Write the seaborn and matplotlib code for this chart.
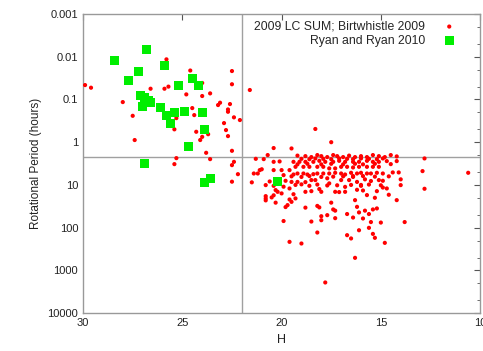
import numpy as np
import pandas as pd
import matplotlib
matplotlib.use("Agg")
import matplotlib.pyplot as plt
from matplotlib.ticker import LogLocator, FixedLocator, NullFormatter
import seaborn as sns

# ---- Data: 2009 LC SUM; Birtwhistle 2009 (H, period in hours) ----
lc_H = [
    29.9, 29.6, 25.8, 24.6, 22.5, 24.0, 26.6, 25.9, 25.7, 24.8, 23.6, 22.5, 21.6,
    28.0, 24.5, 23.2, 23.1, 22.6, 22.7, 22.7, 24.4, 24.0, 25.4, 25.3, 27.5, 22.4,
    22.1, 22.9, 25.4, 24.3, 24.0, 23.7, 22.8, 22.7, 27.4, 24.1, 22.5, 23.8, 25.3,
    25.4, 23.6, 22.4, 22.5, 22.2, 22.5, 21.4, 21.5, 21.3, 18.3,
    # right cluster
    17.5, 20.4, 19.5, 12.8, 12.9, 10.6, 12.8, 14.0, 14.2, 13.8, 14.8, 16.3, 17.8,
    19.6, 19.0, 19.9, 18.2, 18.5, 16.7, 16.5, 16.1, 15.6, 15.4, 15.3, 15.0, 15.5,
    15.9, 16.4, 16.7, 17.3, 18.0, 17.7, 18.0, 18.8, 18.2, 18.1, 17.4, 17.3, 17.5,
    16.3, 16.2, 15.8, 15.4, 15.2, 15.7, 15.2, 14.7, 20.3, 20.8, 20.8, 20.5, 19.7,
    19.5, 19.6, 19.3, 20.0, 20.3, 20.2, 20.8, 21.2, 21.1, 20.9, 20.7, 20.4, 20.4,
    20.1, 20.0, 19.9, 19.8, 19.5, 19.6, 19.2, 19.0, 18.8, 18.5, 18.1, 18.0, 17.7,
    17.6, 17.3, 17.1, 16.8, 16.8, 18.8, 18.5, 18.3, 18.0, 17.7, 17.0, 16.6, 16.2,
    15.8, 15.5, 15.1, 14.9, 14.4, 14.1, 14.0, 14.5, 14.2, 14.7, 14.9, 15.2, 15.5,
    15.7, 16.0, 16.2, 16.5, 16.8, 17.0, 17.3, 17.6, 17.9, 18.2, 18.4, 18.7, 18.9,
    19.2, 19.4, 19.6, 19.3, 18.9, 18.6, 18.2, 17.9, 17.6, 17.3, 17.0, 16.7, 16.4,
    16.1, 15.7, 15.4, 15.1, 19.4, 19.1, 18.8, 18.4, 18.1, 17.8, 17.4, 17.1, 16.8,
    16.4, 16.1, 15.7, 15.4, 15.1,
    19.2, 18.8, 18.5, 18.2, 18.0, 17.7, 17.4, 17.2, 16.9, 16.6, 16.3, 16.0, 15.7,
    15.4, 15.1, 14.8, 14.5, 14.2,
    20.6, 21.0, 20.4, 19.9, 20.8, 20.4, 19.8, 19.4, 14.9, 15.3, 16.2, 15.6, 16.1,
    16.0, 15.9, 14.6, 16.4,
    19.0, 18.6, 18.3, 17.9, 17.5, 17.1, 16.7, 16.4, 16.0, 15.6, 15.2, 14.9,
    19.2, 18.7, 18.0, 17.5, 16.9, 16.3, 15.9, 15.3,
    19.5, 19.0, 18.6, 17.4, 16.9, 16.4, 15.9, 15.3, 14.6,
    19.3, 18.6, 18.2, 17.2, 16.5, 16.0, 15.6, 15.0,
]
lc_P = [
    0.046, 0.053, 0.0115, 0.021, 0.0216, 0.041, 0.056, 0.056, 0.050, 0.076, 0.072, 0.044, 0.060,
    0.115, 0.159, 0.135, 0.119, 0.128, 0.171, 0.194, 0.232, 0.083, 0.205, 0.273, 0.241, 0.262,
    0.303, 0.357, 0.50, 0.57, 0.75, 0.65, 0.52, 0.72, 0.89, 0.89, 1.59, 1.77, 2.36,
    3.26, 2.49, 2.88, 3.44, 5.6, 8.4, 5.4, 8.7, 2.45, 0.49,
    # right cluster
    1.0, 1.37, 1.40, 2.4, 4.75, 5.2, 12.3, 10.1, 22.7, 74, 227, 509, 1920,
    215, 235, 70, 130, 72, 150, 179, 115, 101, 140, 173, 76, 74,
    61, 58, 48, 60, 54, 51, 67, 34, 31, 33.6, 37.5, 40, 26,
    22.7, 32.6, 40, 37.5, 35.5, 17.3, 14, 12.1, 26, 20.7, 18.3, 19.6, 29.7,
    24.9, 21.9, 20.7, 15.8, 13.2, 14.5, 10.1, 5.4, 4.5, 2.49, 2.0, 2.88, 4.5,
    2.82, 4.5, 5.9, 8.0, 8.5, 12.1, 8.5, 9.7, 14.5, 14, 12.5, 14.5, 10.3,
    9.2, 14.5, 14.7, 11.1, 14.5, 8.6, 7.7, 7.7, 6.5, 7.0, 7.7, 7.7, 8.5,
    7.4, 8.1, 7.7, 8.0, 5.1, 5.1, 7.4, 3.26, 2.77, 2.77, 5.4, 5.2, 5.4,
    5.4, 5.2, 5.4, 5.2, 5.7, 5.4, 5.2, 5.4, 5.4, 5.4, 5.6, 5.7, 5.4,
    5.4, 5.7, 4.5, 3.77, 3.77, 3.77, 3.77, 3.77, 4.1, 4.1, 3.77, 3.77, 3.9,
    3.77, 3.77, 3.77, 3.77, 2.88, 2.88, 2.88, 2.88, 2.73, 2.88, 2.88, 2.73, 2.88,
    2.88, 2.88, 2.73, 2.88, 2.88,
    2.06, 2.12, 2.23, 2.0, 2.12, 2.23, 2.0, 2.12, 2.23, 2.06, 2.23, 2.12, 2.23,
    2.0, 2.12, 2.23, 2.0, 2.15,
    8.3, 4.3, 10.5, 11.0, 23.0, 17.5, 33.0, 16.5, 11.5, 20.0, 13.0, 48.0, 44.0,
    10.0, 13.5, 17.0, 6.2,
    2.45, 2.5, 2.4, 2.45, 2.5, 2.4, 2.45, 2.5, 2.4, 2.45, 2.5, 2.4,
    3.3, 3.2, 3.3, 3.2, 3.3, 3.2, 3.3, 3.2,
    6.3, 6.5, 6.2, 6.4, 6.3, 6.5, 6.2, 6.4, 6.3,
    10.0, 10.5, 9.8, 10.2, 10.0, 10.5, 9.8, 10.2,
]

# ---- Data: Ryan and Ryan 2010 ----
rr_H = [28.4, 26.8, 27.2, 27.7, 25.9, 25.2, 24.5, 24.2, 27.1, 26.9, 26.7, 27.0,
        26.6, 26.1, 25.4, 24.9, 24.0, 25.8, 25.6, 23.9, 24.7, 26.9, 23.9, 23.6, 20.2]
rr_P = [0.012, 0.0067, 0.0224, 0.036, 0.0156, 0.048, 0.033, 0.046, 0.079, 0.091, 0.103, 0.143,
        0.119, 0.156, 0.20, 0.187, 0.205, 0.24, 0.357, 0.51, 1.23, 3.14, 8.9, 7.2, 8.1]

y_ticks = [0.001, 0.01, 0.1, 1, 10, 100, 1000, 10000]
y_tick_labels = ["0.001", "0.01", "0.1", "1", "10", "100", "1000", "10000"]
x_ticks = [30, 25, 20, 15, 10]
x_tick_labels = ["30", "25", "20", "15", "10"]
H_cut = 22.0
P_cut = 2.2

lc = pd.DataFrame({"H": lc_H, "P": lc_P})
rr = pd.DataFrame({"H": rr_H, "P": rr_P})

sns.set_style("white")
plt.rcParams["font.family"] = ["Liberation Sans", "DejaVu Sans"]

fig = plt.figure(figsize=(4.83, 3.51), dpi=100)
ax = fig.add_axes([0.172, 0.108, 0.822, 0.852])

ax.set_yscale("log")
ax.axvline(H_cut, color="#a0a0a0", lw=1.0, zorder=1)
ax.axhline(P_cut, color="#a0a0a0", lw=1.0, zorder=1)

sns.scatterplot(data=lc, x="H", y="P", ax=ax, color="#ff0000", marker="o", s=9,
                edgecolor="none", linewidth=0, label="2009 LC SUM; Birtwhistle 2009", zorder=3)
sns.scatterplot(data=rr, x="H", y="P", ax=ax, color="#00ee00", marker="s", s=42,
                edgecolor="none", linewidth=0, label="Ryan and Ryan 2010", zorder=4)

ax.set_xlim(30, 10)
ax.set_ylim(10000, 0.001)
ax.set_xticks(x_ticks)
ax.set_xticklabels(x_tick_labels)
ax.yaxis.set_major_locator(FixedLocator(y_ticks))
ax.set_yticklabels(y_tick_labels)
ax.yaxis.set_minor_locator(LogLocator(base=10, subs=[2, 5], numticks=20))
ax.yaxis.set_minor_formatter(NullFormatter())

ax.tick_params(axis="both", which="both", direction="in", top=True, right=True,
               colors="#555555", labelcolor="#222222", labelsize=8)
ax.tick_params(axis="both", which="major", length=4, width=0.8)
ax.tick_params(axis="both", which="minor", length=2, width=0.6)

for sp in ax.spines.values():
    sp.set_color("#999999")
    sp.set_linewidth(1.0)

ax.set_xlabel("H", fontsize=9, color="#222222", labelpad=4)
ax.set_ylabel("Rotational Period (hours)", fontsize=8.5, color="#222222", labelpad=4)

leg = ax.legend(loc="upper right", bbox_to_anchor=(0.97, 1.0), frameon=False,
                markerfirst=False, fontsize=8.8,
                handletextpad=1.0, borderaxespad=0.15, labelspacing=0.15)

fig.savefig("out.png", dpi=100)
